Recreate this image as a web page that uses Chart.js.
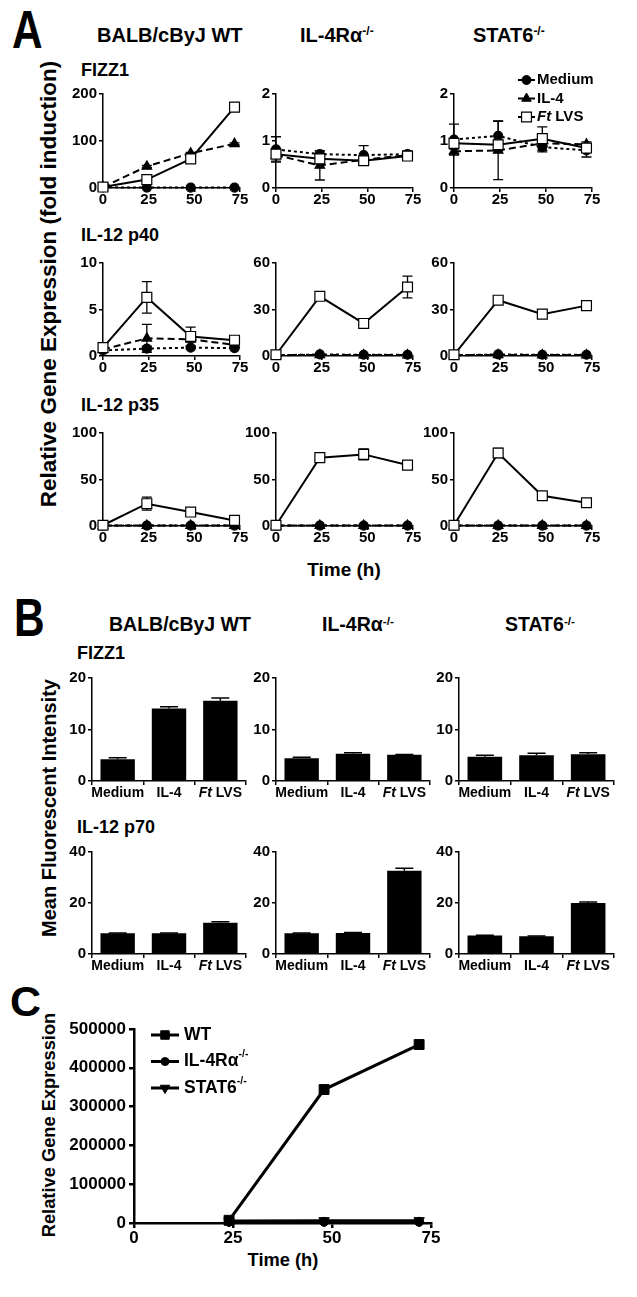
<!DOCTYPE html>
<html><head><meta charset="utf-8">
<script src="https://cdn.jsdelivr.net/npm/chart.js@4.4.1/dist/chart.umd.min.js"></script>
<style>
body{margin:0;background:#fff;}
#page{position:relative;width:637px;height:1297px;overflow:hidden;background:#fff;font-family:"Liberation Sans",Arial,Helvetica,sans-serif;font-weight:bold;color:#000;}
.t{position:absolute;white-space:nowrap;line-height:1;}
.c{transform:translate(-50%,-50%);}
.l{transform:translateY(-50%);}
.r{transform:translate(-50%,-50%) rotate(-90deg);}
sup{font-size:0.6em;position:relative;top:-0.55em;vertical-align:baseline;line-height:0;}
canvas{position:absolute;}
</style></head>
<body><div id="page">
<div class="t" style="left:12px;top:29px;font-size:53px;transform:translateY(-50%) scaleX(0.8);transform-origin:left center;">A</div>
<div class="t l" style="left:97px;top:35px;font-size:20px;">BALB/cByJ WT</div>
<div class="t l" style="left:300px;top:35px;font-size:20px;">IL-4Rα<sup>-/-</sup></div>
<div class="t l" style="left:473px;top:35px;font-size:20px;">STAT6<sup>-/-</sup></div>
<div class="t l" style="left:81px;top:70px;font-size:18px;">FIZZ1</div>
<div class="t l" style="left:81px;top:235px;font-size:18px;">IL-12 p40</div>
<div class="t l" style="left:81px;top:405px;font-size:18px;">IL-12 p35</div>
<div class="t r" style="left:48.5px;top:284px;font-size:22.5px;">Relative Gene Expression (fold induction)</div>
<div class="t c" style="left:344px;top:569px;font-size:19px;">Time (h)</div>

<div class="t" style="left:14px;top:617px;font-size:53px;transform:translateY(-50%) scaleX(0.8);transform-origin:left center;">B</div>
<div class="t l" style="left:109px;top:625px;font-size:19.5px;">BALB/cByJ WT</div>
<div class="t l" style="left:322px;top:625px;font-size:19.5px;">IL-4Rα<sup>-/-</sup></div>
<div class="t l" style="left:505px;top:625px;font-size:19.5px;">STAT6<sup>-/-</sup></div>
<div class="t l" style="left:77px;top:653px;font-size:18px;">FIZZ1</div>
<div class="t l" style="left:77px;top:827px;font-size:18px;">IL-12 p70</div>
<div class="t r" style="left:49px;top:808px;font-size:20px;">Mean Fluorescent Intensity</div>

<div class="t" style="left:10px;top:1001px;font-size:43px;transform:translateY(-50%);">C</div>
<div class="t r" style="left:48.5px;top:1125px;font-size:18.3px;">Relative Gene Expression</div>
<div class="t c" style="left:283px;top:1260px;font-size:18.3px;">Time (h)</div>
</div>
<script>
// ---------- DATA ----------
const timeH = [0, 24, 48, 72];
const timeTicks = [0, 25, 50, 75];
const treatments = ['Medium', 'IL-4', 'Ft LVS'];

// Panel A: FIZZ1
const aFizz1WtMedium = [1.5, 1.0, 1.0, 1.0];
const aFizz1WtMediumErr = [0.5, 0.3, 0.3, 0.3];
const aFizz1WtIl4 = [2.0, 46, 74, 94];
const aFizz1WtIl4Err = [0.5, 2, 2, 2];
const aFizz1WtFt = [2.0, 18, 62, 172];
const aFizz1WtFtErr = [0.5, 2, 3, 5];

const aFizz1Il4rMedium = [0.82, 0.72, 0.70, 0.72];
const aFizz1Il4rMediumErr = [0.27, 0.07, 0.20, 0.07];
const aFizz1Il4rIl4 = [0.70, 0.48, 0.60, 0.70];
const aFizz1Il4rIl4Err = [0.13, 0.31, 0.05, 0.05];
const aFizz1Il4rFt = [0.72, 0.62, 0.58, 0.68];
const aFizz1Il4rFtErr = [0.05, 0.10, 0.05, 0.04];

const aFizz1Stat6Medium = [1.03, 1.11, 0.87, 0.80];
const aFizz1Stat6MediumErr = [0.33, 0.32, 0.10, 0.14];
const aFizz1Stat6Il4 = [0.78, 0.80, 0.95, 0.93];
const aFizz1Stat6Il4Err = [0.05, 0.62, 0.05, 0.05];
const aFizz1Stat6Ft = [0.95, 0.92, 1.05, 0.85];
const aFizz1Stat6FtErr = [0.05, 0.10, 0.25, 0.08];

// Panel A: IL-12 p40
const aP40WtMedium = [0.6, 0.8, 0.9, 0.85];
const aP40WtMediumErr = [0.1, 0.25, 0.1, 0.1];
const aP40WtIl4 = [0.7, 1.9, 1.8, 1.2];
const aP40WtIl4Err = [0.1, 1.5, 0.3, 0.2];
const aP40WtFt = [0.9, 6.3, 2.1, 1.7];
const aP40WtFtErr = [0.3, 1.7, 1.0, 0.4];

const aP40Il4rMedium = [0.5, 1.0, 0.8, 0.8];
const aP40Il4rIl4 = [0.5, 0.7, 0.6, 0.6];
const aP40Il4rFt = [0.8, 38.5, 21, 44.5];
const aP40Il4rFtErr = [0.3, 1.2, 3, 7];

const aP40Stat6Medium = [0.5, 1.0, 0.8, 0.8];
const aP40Stat6Il4 = [0.5, 0.7, 0.6, 0.6];
const aP40Stat6Ft = [0.8, 36, 27, 32.5];
const aP40Stat6FtErr = [0.3, 1.2, 2.5, 2.5];

// Panel A: IL-12 p35
const aP35WtMedium = [0.5, 0.5, 0.5, 0.5];
const aP35WtIl4 = [0.5, 0.5, 0.5, 0.5];
const aP35WtFt = [0.8, 24, 15, 6];
const aP35WtFtErr = [0.3, 7, 3, 2];

const aP35Il4rMedium = [0.5, 0.5, 0.5, 0.5];
const aP35Il4rIl4 = [0.5, 0.5, 0.5, 0.5];
const aP35Il4rFt = [0.8, 73.5, 77, 65.5];
const aP35Il4rFtErr = [0.3, 2, 6, 2];

const aP35Stat6Medium = [0.5, 0.5, 0.5, 0.5];
const aP35Stat6Il4 = [0.5, 0.5, 0.5, 0.5];
const aP35Stat6Ft = [0.8, 78.5, 32.5, 25];
const aP35Stat6FtErr = [0.3, 5, 2, 2];

// Panel B: mean fluorescent intensity
const bFizz1Wt = [4.2, 14.1, 15.6];
const bFizz1WtErr = [0.3, 0.3, 0.5];
const bFizz1Il4r = [4.4, 5.3, 5.1];
const bFizz1Il4rErr = [0.2, 0.2, 0.05];
const bFizz1Stat6 = [4.7, 5.0, 5.2];
const bFizz1Stat6Err = [0.3, 0.4, 0.3];
const bP70Wt = [8.1, 8.1, 12.3];
const bP70WtErr = [0.1, 0.1, 0.3];
const bP70Il4r = [8.1, 8.2, 32.6];
const bP70Il4rErr = [0.1, 0.2, 1.0];
const bP70Stat6 = [7.3, 7.0, 20.0];
const bP70Stat6Err = [0.1, 0.1, 0.4];

// Panel C
const cTime = [24, 48, 72];
const cWt = [7000, 344000, 460000];
const cIl4r = [3000, 3000, 3000];
const cStat6 = [5000, 6000, 6000];

// ---------- HELPERS ----------
const FONT = '"Liberation Sans", Arial, Helvetica, sans-serif';
const page = document.getElementById('page');

function addCanvas(x0, y0, x1, y1, m) {
  const c = document.createElement('canvas');
  const left = Math.round(x0 - m.yw), top = Math.round(y0 - m.pt);
  const w = Math.round(x1 - x0 + m.yw + m.pr), h = Math.round(y1 - y0 + m.pt + m.xh);
  c.width = w; c.height = h;
  c.style.left = left + 'px'; c.style.top = top + 'px';
  c.style.width = w + 'px'; c.style.height = h + 'px';
  page.appendChild(c);
  return c;
}

function richSegs(label) {
  const out = [];
  label.split(/(Ft|-\/-)/).forEach(p => {
    if (!p) return;
    if (p === 'Ft') out.push({ t: p, italic: true });
    else if (p === '-/-') out.push({ t: p, sup: true });
    else out.push({ t: p });
  });
  return out;
}

function segFont(s, size) {
  const fs = s.sup ? size * 0.6 : size;
  return (s.italic ? 'italic ' : '') + 'bold ' + fs + 'px ' + FONT;
}

function drawRich(ctx, segs, x, y, size, align) {
  ctx.textBaseline = 'middle'; ctx.textAlign = 'left';
  let total = 0;
  segs.forEach(s => { ctx.font = segFont(s, size); total += ctx.measureText(s.t).width; });
  let cx = align === 'center' ? x - total / 2 : x;
  segs.forEach(s => {
    ctx.font = segFont(s, size);
    ctx.fillText(s.t, cx, s.sup ? y - size * 0.42 : y);
    cx += ctx.measureText(s.t).width;
  });
}

function drawMarker(ctx, style, x, y, r, fill, bw, rotation) {
  ctx.save();
  ctx.fillStyle = fill; ctx.strokeStyle = '#000'; ctx.lineWidth = bw; ctx.setLineDash([]);
  ctx.beginPath();
  if (style === 'circle') {
    ctx.arc(x, y, r, 0, Math.PI * 2);
  } else if (style === 'rect') {
    const s = r * Math.SQRT1_2;
    ctx.rect(x - s, y - s, 2 * s, 2 * s);
  } else if (style === 'triangle') {
    let rad = (rotation || 0) * Math.PI / 180;
    ctx.moveTo(x + Math.sin(rad) * r, y - Math.cos(rad) * r);
    rad += 2 * Math.PI / 3;
    ctx.lineTo(x + Math.sin(rad) * r, y - Math.cos(rad) * r);
    rad += 2 * Math.PI / 3;
    ctx.lineTo(x + Math.sin(rad) * r, y - Math.cos(rad) * r);
    ctx.closePath();
  }
  ctx.fill();
  if (bw > 0) ctx.stroke();
  ctx.restore();
}

function drawErr(chart, o) {
  const ctx = chart.ctx, ys = chart.scales.y;
  ctx.save(); ctx.strokeStyle = '#000'; ctx.lineWidth = o.lineWidth; ctx.setLineDash([]);
  chart.data.datasets.forEach((ds, i) => {
    if (!ds.errors) return;
    const meta = chart.getDatasetMeta(i);
    meta.data.forEach((el, j) => {
      const raw = ds.data[j];
      const v = (typeof raw === 'object') ? raw.y : raw;
      const e = ds.errors[j];
      if (!e) return;
      const x = el.x;
      const top = ys.getPixelForValue(v + e);
      const lowVal = o.upOnly ? v : v - e;
      const bot = ys.getPixelForValue(Math.max(0, lowVal));
      ctx.beginPath();
      ctx.moveTo(x, top); ctx.lineTo(x, bot);
      ctx.moveTo(x - o.cap, top); ctx.lineTo(x + o.cap, top);
      if (!o.upOnly && lowVal > 0) { ctx.moveTo(x - o.cap, bot); ctx.lineTo(x + o.cap, bot); }
      ctx.stroke();
    });
  });
  ctx.restore();
}

Chart.register({
  id: 'errorBars',
  beforeDatasetsDraw(chart, a, o) { if (o && o.phase === 'before') drawErr(chart, o); },
  afterDatasetsDraw(chart, a, o) { if (o && o.phase === 'after') drawErr(chart, o); }
});
Chart.register({
  id: 'catLabels',
  afterDraw(chart, a, o) {
    if (!o || !o.labels) return;
    const ctx = chart.ctx, xs = chart.scales.x;
    ctx.save(); ctx.fillStyle = '#000';
    o.labels.forEach((lab, i) => {
      drawRich(ctx, richSegs(lab), xs.getPixelForTick(i), chart.chartArea.bottom + o.offset, o.size, 'center');
    });
    ctx.restore();
  }
});
Chart.register({
  id: 'richLegend',
  afterDraw(chart, a, o) {
    if (!o || !o.items) return;
    const ctx = chart.ctx, ca = chart.chartArea;
    o.items.forEach((it, k) => {
      const y = ca.top + o.dy + k * o.gap;
      const lx0 = ca.left + o.dx, lx1 = lx0 + o.lineLen;
      ctx.save(); ctx.strokeStyle = '#000'; ctx.lineWidth = o.lineWidth; ctx.setLineDash([]);
      ctx.beginPath(); ctx.moveTo(lx0, y); ctx.lineTo(lx1, y); ctx.stroke(); ctx.restore();
      drawMarker(ctx, it.style, (lx0 + lx1) / 2, y, it.radius, it.fill, it.bw, it.rotation);
      ctx.save(); ctx.fillStyle = '#000';
      drawRich(ctx, richSegs(it.label), lx1 + o.textGap, y, o.size, 'left');
      ctx.restore();
    });
  }
});

function axisCommon(size, tl, pad, bw) {
  return {
    border: { display: true, color: '#000', width: bw },
    grid: { display: true, drawOnChartArea: false, drawTicks: true, tickLength: tl, color: '#000', lineWidth: bw },
    ticks: { color: '#000', font: { family: FONT, size: size, weight: 'bold', lineHeight: 1 }, padding: pad, maxRotation: 0, autoSkip: false,
      callback: v => String(v) }
  };
}

const styleMedium = { borderDash: [3, 3], pointStyle: 'circle', pointRadius: 4.5, fill: '#000', order: 2 };
const styleIl4 = { borderDash: [7, 4], pointStyle: 'triangle', pointRadius: 5.5, fill: '#000', order: 1 };
const styleFt = { borderDash: [], pointStyle: 'rect', pointRadius: 7, fill: '#fff', order: 0 };

function lineDs(label, vals, errs, st) {
  return {
    label: label,
    data: timeH.map((t, i) => ({ x: t, y: vals[i] })),
    errors: errs || null,
    borderColor: '#000', borderWidth: 2, borderDash: st.borderDash,
    pointStyle: st.pointStyle, pointRadius: st.pointRadius,
    pointBackgroundColor: st.fill, pointBorderColor: '#000', pointBorderWidth: 1.2,
    clip: false, order: st.order, tension: 0
  };
}

const mA = { yw: 40, xh: 24, pt: 26, pr: 16 };
function makeLineA(x0, y0, x1, y1, yMax, yStep, dsets, legend) {
  const cv = addCanvas(x0, y0, x1, y1, mA);
  const xa = axisCommon(15, 4, 0, 1.5), ya = axisCommon(15, 4, 2, 1.5);
  xa.ticks.stepSize = 25;
  ya.ticks.stepSize = yStep;
  new Chart(cv, {
    type: 'line',
    data: { datasets: dsets },
    options: {
      responsive: false, animation: false, devicePixelRatio: 1,
      layout: { padding: { left: 0, right: mA.pr, top: mA.pt, bottom: 0 } },
      plugins: {
        legend: { display: false }, tooltip: { enabled: false },
        errorBars: { phase: 'before', cap: 5, lineWidth: 1.3, upOnly: false },
        richLegend: legend || {}
      },
      scales: {
        x: Object.assign(xa, { type: 'linear', min: 0, max: 75, afterFit: s => { s.height = mA.xh; } }),
        y: Object.assign(ya, { type: 'linear', min: 0, max: yMax, afterFit: s => { s.width = mA.yw; } })
      }
    }
  });
  return cv;
}

const colsA = [[103, 240], [276, 413], [454, 592]];
const rowsA = [[94, 188], [263, 356], [433, 526]];

const gridA = [
  { yMax: [200, 2, 2], yStep: [100, 1, 1], sets: [
    [lineDs('Medium', aFizz1WtMedium, aFizz1WtMediumErr, styleMedium), lineDs('IL-4', aFizz1WtIl4, aFizz1WtIl4Err, styleIl4), lineDs('Ft LVS', aFizz1WtFt, aFizz1WtFtErr, styleFt)],
    [lineDs('Medium', aFizz1Il4rMedium, aFizz1Il4rMediumErr, styleMedium), lineDs('IL-4', aFizz1Il4rIl4, aFizz1Il4rIl4Err, styleIl4), lineDs('Ft LVS', aFizz1Il4rFt, aFizz1Il4rFtErr, styleFt)],
    [lineDs('Medium', aFizz1Stat6Medium, aFizz1Stat6MediumErr, styleMedium), lineDs('IL-4', aFizz1Stat6Il4, aFizz1Stat6Il4Err, styleIl4), lineDs('Ft LVS', aFizz1Stat6Ft, aFizz1Stat6FtErr, styleFt)]
  ]},
  { yMax: [10, 60, 60], yStep: [5, 30, 30], sets: [
    [lineDs('Medium', aP40WtMedium, aP40WtMediumErr, styleMedium), lineDs('IL-4', aP40WtIl4, aP40WtIl4Err, styleIl4), lineDs('Ft LVS', aP40WtFt, aP40WtFtErr, styleFt)],
    [lineDs('Medium', aP40Il4rMedium, null, styleMedium), lineDs('IL-4', aP40Il4rIl4, null, styleIl4), lineDs('Ft LVS', aP40Il4rFt, aP40Il4rFtErr, styleFt)],
    [lineDs('Medium', aP40Stat6Medium, null, styleMedium), lineDs('IL-4', aP40Stat6Il4, null, styleIl4), lineDs('Ft LVS', aP40Stat6Ft, aP40Stat6FtErr, styleFt)]
  ]},
  { yMax: [100, 100, 100], yStep: [50, 50, 50], sets: [
    [lineDs('Medium', aP35WtMedium, null, styleMedium), lineDs('IL-4', aP35WtIl4, null, styleIl4), lineDs('Ft LVS', aP35WtFt, aP35WtFtErr, styleFt)],
    [lineDs('Medium', aP35Il4rMedium, null, styleMedium), lineDs('IL-4', aP35Il4rIl4, null, styleIl4), lineDs('Ft LVS', aP35Il4rFt, aP35Il4rFtErr, styleFt)],
    [lineDs('Medium', aP35Stat6Medium, null, styleMedium), lineDs('IL-4', aP35Stat6Il4, null, styleIl4), lineDs('Ft LVS', aP35Stat6Ft, aP35Stat6FtErr, styleFt)]
  ]}
];

const legendA = {
  dx: 64, dy: -14, gap: 18.5, lineLen: 17, textGap: 2, lineWidth: 2, size: 15,
  items: [
    { label: treatments[0], style: 'circle', radius: 4.5, fill: '#000', bw: 1 },
    { label: treatments[1], style: 'triangle', radius: 5.5, fill: '#000', bw: 1 },
    { label: treatments[2], style: 'rect', radius: 7, fill: '#fff', bw: 1.2 }
  ]
};

gridA.forEach((row, r) => {
  row.sets.forEach((dsets, c) => {
    makeLineA(colsA[c][0], rowsA[r][0], colsA[c][1], rowsA[r][1], row.yMax[c], row.yStep[c], dsets,
      (r === 0 && c === 2) ? legendA : null);
  });
});

// ---------- Panel B ----------
const mB = { yw: 40, xh: 24, pt: 14, pr: 10 };
function makeBar(x0, y0, x1, y1, yMax, yStep, vals, errs) {
  const cv = addCanvas(x0, y0, x1, y1, mB);
  const xa = axisCommon(14, 4, 0, 1.5), ya = axisCommon(15, 4, 2, 1.5);
  xa.ticks.display = false;
  xa.grid.offset = true;
  ya.ticks.stepSize = yStep;
  new Chart(cv, {
    type: 'bar',
    data: { labels: treatments, datasets: [{ data: vals, errors: errs, backgroundColor: '#000', borderWidth: 0, barPercentage: 0.67, categoryPercentage: 1 }] },
    options: {
      responsive: false, animation: false, devicePixelRatio: 1,
      layout: { padding: { left: 0, right: mB.pr, top: mB.pt, bottom: 0 } },
      plugins: {
        legend: { display: false }, tooltip: { enabled: false },
        errorBars: { phase: 'after', cap: 9, lineWidth: 1.5, upOnly: true },
        catLabels: { labels: treatments, offset: 12, size: 14 }
      },
      scales: {
        x: Object.assign(xa, { type: 'category', offset: true, afterFit: s => { s.height = mB.xh; } }),
        y: Object.assign(ya, { type: 'linear', min: 0, max: yMax, afterFit: s => { s.width = mB.yw; } })
      }
    }
  });
}
const colsB = [[92, 246], [276, 430], [459, 614]];
const rowsB = [[678, 781], [852, 954]];
makeBar(colsB[0][0], rowsB[0][0], colsB[0][1], rowsB[0][1], 20, 10, bFizz1Wt, bFizz1WtErr);
makeBar(colsB[1][0], rowsB[0][0], colsB[1][1], rowsB[0][1], 20, 10, bFizz1Il4r, bFizz1Il4rErr);
makeBar(colsB[2][0], rowsB[0][0], colsB[2][1], rowsB[0][1], 20, 10, bFizz1Stat6, bFizz1Stat6Err);
makeBar(colsB[0][0], rowsB[1][0], colsB[0][1], rowsB[1][1], 40, 20, bP70Wt, bP70WtErr);
makeBar(colsB[1][0], rowsB[1][0], colsB[1][1], rowsB[1][1], 40, 20, bP70Il4r, bP70Il4rErr);
makeBar(colsB[2][0], rowsB[1][0], colsB[2][1], rowsB[1][1], 40, 20, bP70Stat6, bP70Stat6Err);

// ---------- Panel C ----------
const mC = { yw: 75, xh: 30, pt: 14, pr: 16 };
(function () {
  const cv = addCanvas(134, 1029, 431, 1223, mC);
  const xa = axisCommon(17, 5, 2, 2.5), ya = axisCommon(17, 5, 3, 2.5);
  xa.ticks.stepSize = 25;
  ya.ticks.stepSize = 100000;
  function ds(label, vals, style, r, rot) {
    return { label: label, data: cTime.map((t, i) => ({ x: t, y: vals[i] })), borderColor: '#000', borderWidth: 3,
      pointStyle: style, pointRadius: r, pointRotation: rot || 0, pointBackgroundColor: '#000', pointBorderColor: '#000',
      pointBorderWidth: 1, clip: false, tension: 0 };
  }
  new Chart(cv, {
    type: 'line',
    data: { datasets: [ds('WT', cWt, 'rect', 7), ds('IL-4Rα-/-', cIl4r, 'circle', 4.5), ds('STAT6-/-', cStat6, 'triangle', 6, 180)] },
    options: {
      responsive: false, animation: false, devicePixelRatio: 1,
      layout: { padding: { left: 0, right: mC.pr, top: mC.pt, bottom: 0 } },
      plugins: {
        legend: { display: false }, tooltip: { enabled: false },
        richLegend: { dx: 17, dy: 6, gap: 26.5, lineLen: 28, textGap: 5, lineWidth: 3, size: 17.5,
          items: [
            { label: 'WT', style: 'rect', radius: 6, fill: '#000', bw: 1 },
            { label: 'IL-4Rα-/-', style: 'circle', radius: 4, fill: '#000', bw: 1 },
            { label: 'STAT6-/-', style: 'triangle', radius: 5.5, fill: '#000', bw: 1, rotation: 180 }
          ] }
      },
      scales: {
        x: Object.assign(xa, { type: 'linear', min: 0, max: 75, afterFit: s => { s.height = mC.xh; } }),
        y: Object.assign(ya, { type: 'linear', min: 0, max: 500000, afterFit: s => { s.width = mC.yw; } })
      }
    }
  });
})();
</script>
</body></html>
